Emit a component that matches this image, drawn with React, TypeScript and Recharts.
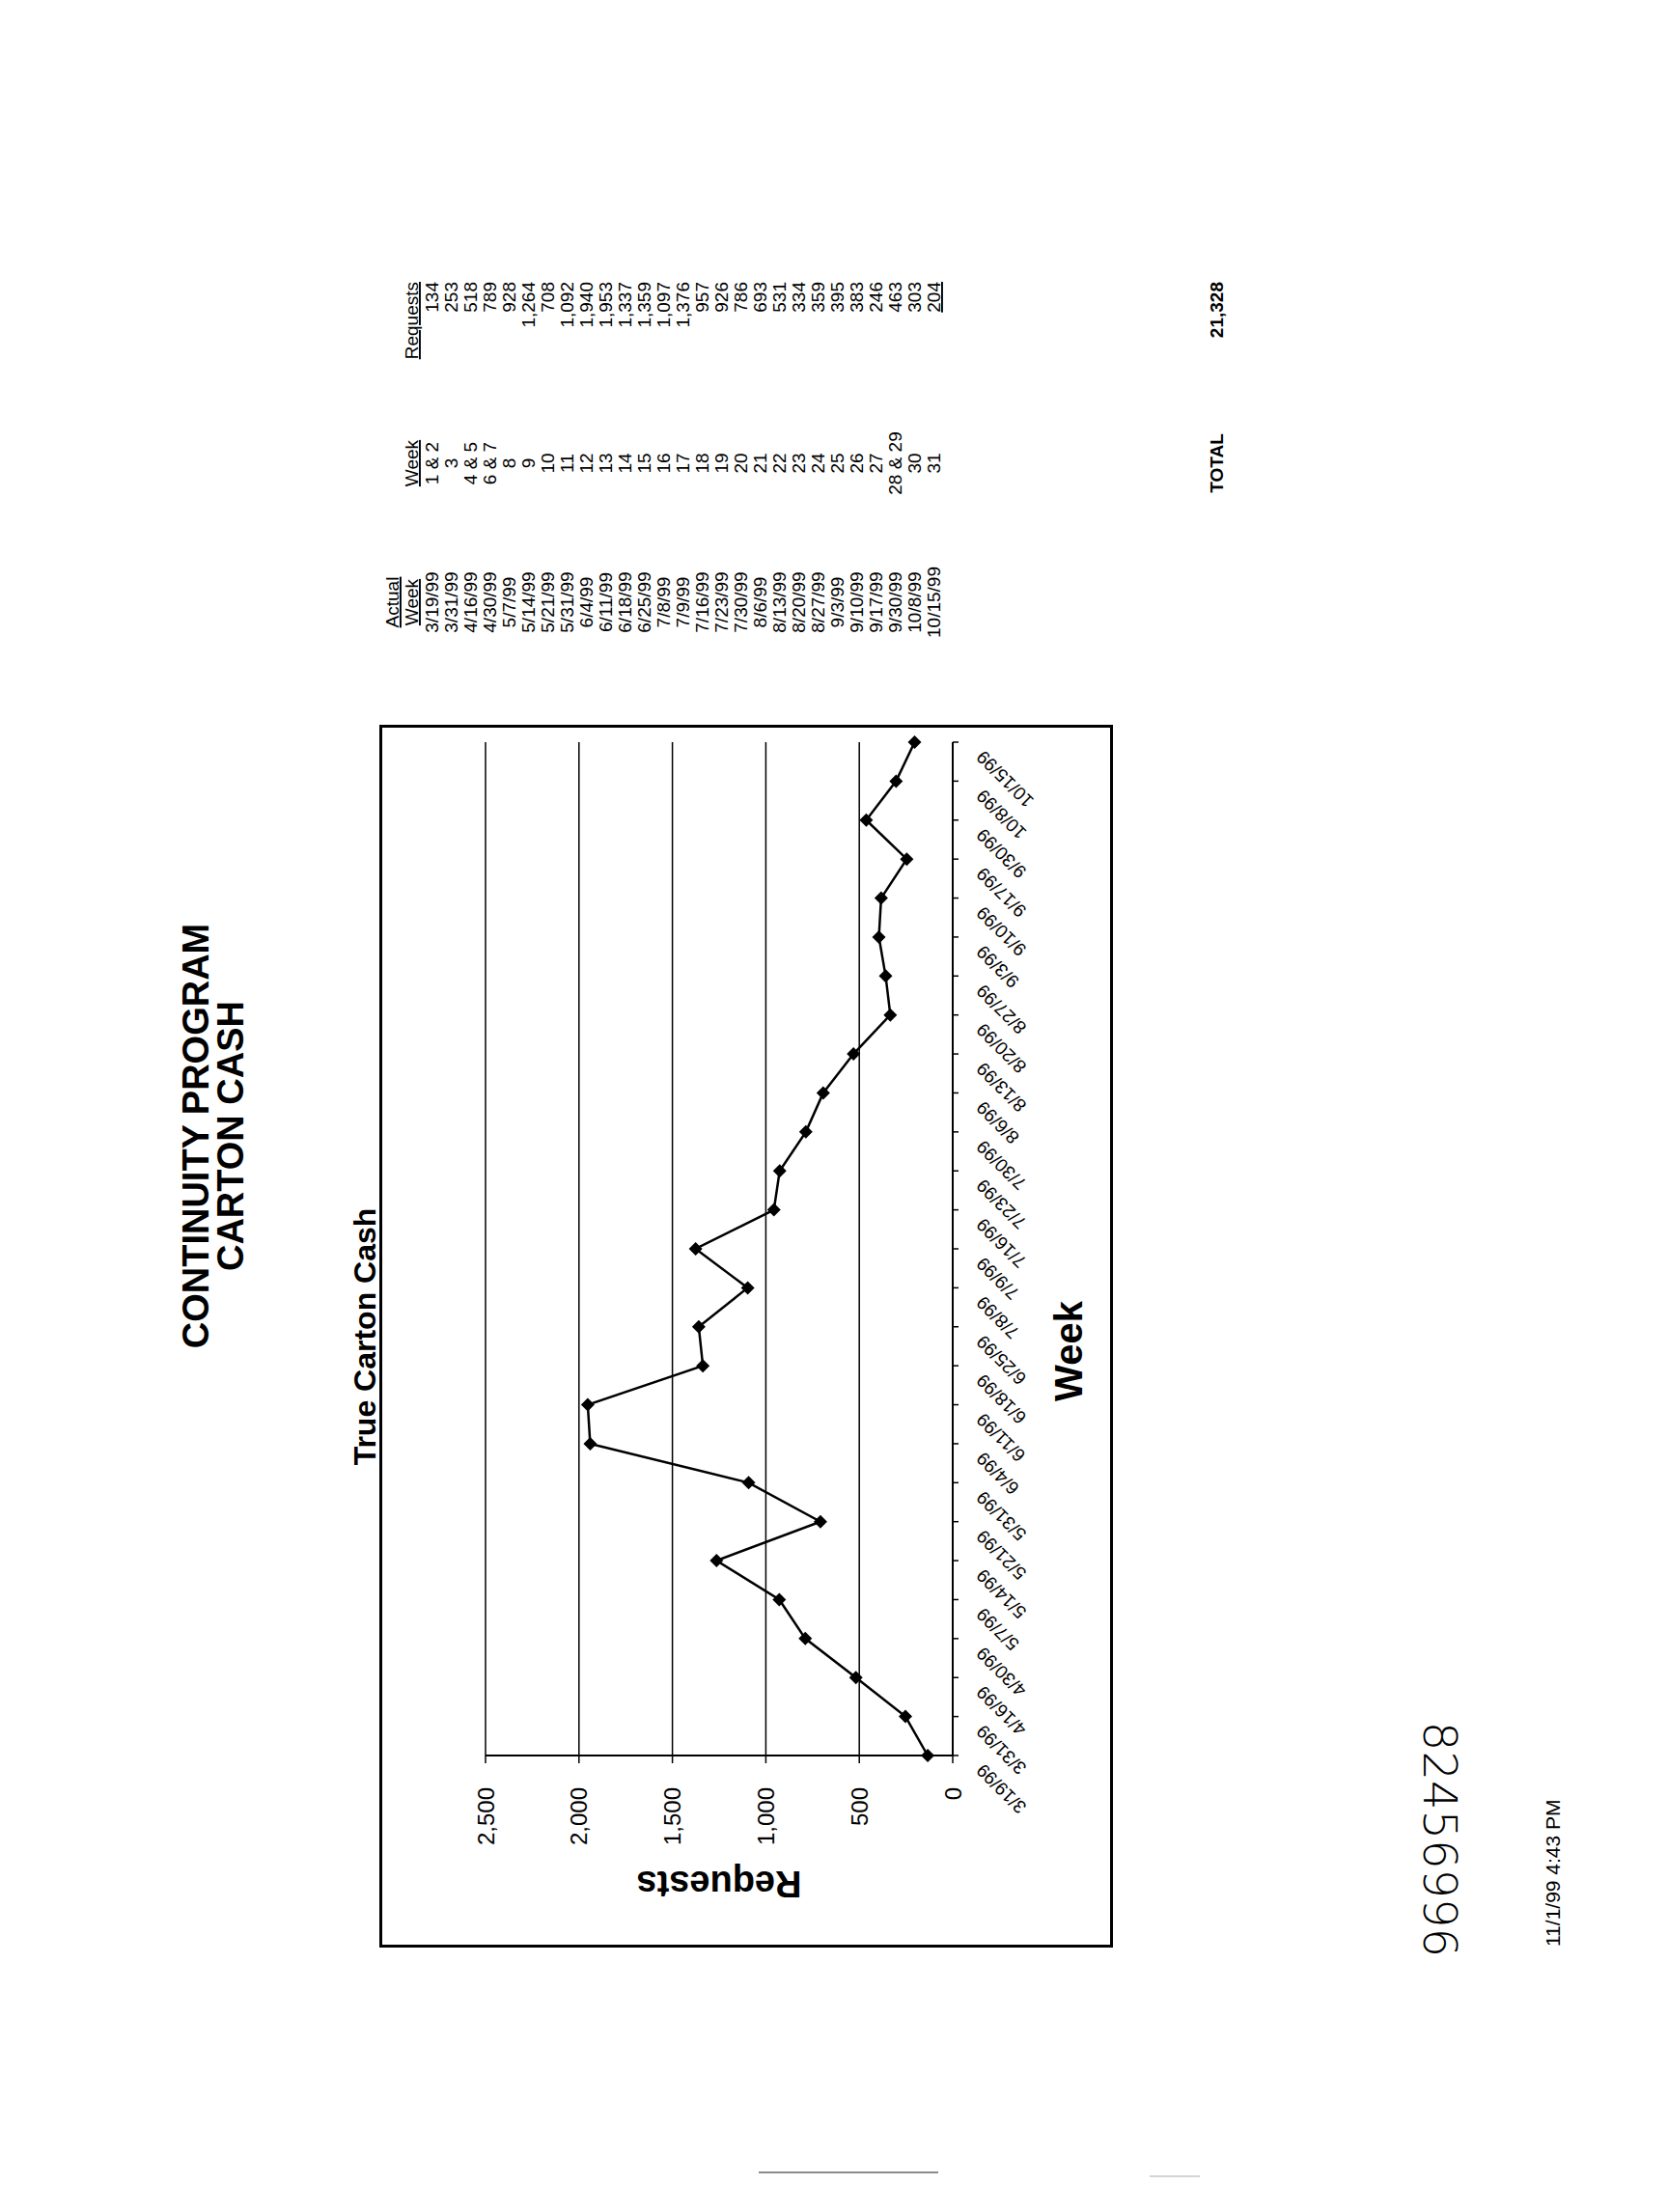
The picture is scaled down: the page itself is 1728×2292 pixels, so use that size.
import React from 'react'
import { LineChart, Line, XAxis, YAxis, CartesianGrid } from 'recharts'

// Weekly true carton cash requests (from the table on the page)
const weekDates = [
  '3/19/99', '3/31/99', '4/16/99', '4/30/99', '5/7/99', '5/14/99', '5/21/99',
  '5/31/99', '6/4/99', '6/11/99', '6/18/99', '6/25/99', '7/8/99', '7/9/99',
  '7/16/99', '7/23/99', '7/30/99', '8/6/99', '8/13/99', '8/20/99', '8/27/99',
  '9/3/99', '9/10/99', '9/17/99', '9/30/99', '10/8/99', '10/15/99'
]
const weekNumbers = [
  '1 & 2', '3', '4 & 5', '6 & 7', '8', '9', '10', '11', '12', '13', '14', '15',
  '16', '17', '18', '19', '20', '21', '22', '23', '24', '25', '26', '27',
  '28 & 29', '30', '31'
]
const requests = [
  134, 253, 518, 789, 928, 1264, 708, 1092, 1940, 1953, 1337, 1359, 1097, 1376,
  957, 926, 786, 693, 531, 334, 359, 395, 383, 246, 463, 303, 204
]
const yTicks = [0, 500, 1000, 1500, 2000, 2500]
const totalRequests = '21,328'

const chartData = weekDates.map((week, i) => ({ week, requests: requests[i] }))

const FONT = '"Liberation Sans", Arial, Helvetica, sans-serif'

const DateTick = (props: any) => {
  const { x, y, payload } = props
  return (
    <g transform={`translate(${x - 12},${y + 20})`}>
      <text
        x={0}
        y={0}
        textAnchor="end"
        dominantBaseline="central"
        transform="rotate(-45)"
        fontSize={19}
        fontFamily={FONT}
        fill="#000"
      >
        {payload.value}
      </text>
    </g>
  )
}

const Diamond = (props: any) => {
  const { cx, cy, index } = props
  if (cx == null || cy == null) return null
  return (
    <path
      key={`dot-${index}`}
      d={`M${cx},${cy - 7}L${cx + 7},${cy}L${cx},${cy + 7}L${cx - 7},${cy}Z`}
      fill="#000"
    />
  )
}

const RequestsTitle = (props: any) => {
  const { viewBox } = props
  const cx = viewBox.x + 66
  const cy = viewBox.y + viewBox.height / 2
  return (
    <text
      x={cx}
      y={cy}
      transform={`rotate(-90, ${cx}, ${cy})`}
      textAnchor="middle"
      dominantBaseline="central"
      fontSize={38}
      fontWeight="bold"
      fontFamily={FONT}
      fill="#000"
    >
      Requests
    </text>
  )
}

const WeekTitle = (props: any) => {
  const { viewBox } = props
  return (
    <text
      x={viewBox.x + 419}
      y={viewBox.y + 120}
      textAnchor="middle"
      dominantBaseline="central"
      fontSize={40}
      fontWeight="bold"
      fontFamily={FONT}
      fill="#000"
    >
      Week
    </text>
  )
}

export default function App() {
  const last = weekDates.length - 1
  return (
    <div
      style={{
        position: 'absolute',
        left: 0,
        top: 0,
        width: 1728,
        height: 2292,
        background: '#fff',
        overflow: 'hidden'
      }}
    >
      {/* the scanned page is a landscape sheet turned a quarter turn */}
      <div
        style={{
          position: 'absolute',
          left: 0,
          top: 0,
          width: 2292,
          height: 1728,
          transformOrigin: '0 0',
          transform: 'translate(0px, 2292px) rotate(-90deg)'
        }}
      >
        <svg
          width={2292}
          height={1728}
          style={{ position: 'absolute', left: 0, top: 0 }}
          fontFamily={FONT}
          fill="#000"
        >
          <text x={1115} y={216} textAnchor="middle" fontSize={38} fontWeight="bold">
            CONTINUITY PROGRAM
          </text>
          <text x={1115} y={252} textAnchor="middle" fontSize={38} fontWeight="bold">
            CARTON CASH
          </text>
          <text x={907} y={389} textAnchor="middle" fontSize={32} fontWeight="bold">
            True Carton Cash
          </text>

          {/* table */}
          <g fontSize={19}>
            <text x={1668} y={413} textAnchor="middle" textDecoration="underline">Actual</text>
            <text x={1668} y={433} textAnchor="middle" textDecoration="underline">Week</text>
            <text x={1812} y={433} textAnchor="middle" textDecoration="underline">Week</text>
            <text x={2000} y={433} textAnchor="end" textDecoration="underline">Requests</text>
            {weekDates.map((d, i) => {
              const y = 454 + 20 * i
              return (
                <g key={d}>
                  <text x={1668} y={y} textAnchor="middle">{d}</text>
                  <text x={1812} y={y} textAnchor="middle">{weekNumbers[i]}</text>
                  <text
                    x={2000}
                    y={y}
                    textAnchor="end"
                    textDecoration={i === last ? 'underline' : undefined}
                  >
                    {requests[i].toLocaleString('en-US')}
                  </text>
                </g>
              )
            })}
            <text x={1812} y={1267} textAnchor="middle" fontWeight="bold">TOTAL</text>
            <text x={2000} y={1267} textAnchor="end" fontWeight="bold">{totalRequests}</text>
          </g>

          <text
            x={386}
            y={1492}
            textAnchor="middle"
            dominantBaseline="central"
            fontSize={48}
            fontWeight={300}
            fontFamily='"DejaVu Sans", sans-serif'
            transform="rotate(180, 386, 1492)"
          >
            82456996
          </text>
          <text x={275} y={1616} fontSize={21}>11/1/99 4:43 PM</text>

          <line x1={41} y1={786} x2={41} y2={972} stroke="#666" strokeWidth={1.5} />
          <line x1={37} y1={1191} x2={37} y2={1243} stroke="#aaa" strokeWidth={1} />
        </svg>

        <div style={{ position: 'absolute', left: 274, top: 393, width: 1267, height: 760 }}>
          <LineChart
            width={1267}
            height={760}
            data={chartData}
            margin={{ top: 110, right: 18, left: 0, bottom: 0 }}
          >
            <CartesianGrid yAxisId="v" vertical={false} stroke="#000" strokeWidth={1.5} />
            <XAxis
              dataKey="week"
              height={166}
              interval={0}
              tick={<DateTick />}
              tickSize={6}
              tickLine={{ stroke: '#000', strokeWidth: 1.5 }}
              axisLine={{ stroke: '#000', strokeWidth: 2 }}
              label={{ content: <WeekTitle /> }}
            />
            <YAxis
              yAxisId="v"
              width={199}
              domain={[0, 2500]}
              ticks={yTicks}
              tickFormatter={(v: number) => v.toLocaleString('en-US')}
              tickSize={8}
              tickMargin={25}
              tick={{ fontSize: 24, fill: '#000', fontFamily: FONT }}
              tickLine={{ stroke: '#000', strokeWidth: 1.5 }}
              axisLine={{ stroke: '#000', strokeWidth: 2 }}
              label={{ content: <RequestsTitle /> }}
            />
            <YAxis
              yAxisId="edge"
              orientation="right"
              width={0}
              domain={[0, 2500]}
              tick={false}
              tickLine={false}
              axisLine={{ stroke: '#666', strokeWidth: 1.5, strokeDasharray: '3 2' }}
            />
            <Line
              yAxisId="v"
              type="linear"
              dataKey="requests"
              stroke="#000"
              strokeWidth={2.5}
              dot={<Diamond />}
              activeDot={false}
              isAnimationActive={false}
            />
          </LineChart>
          <div
            style={{
              position: 'absolute',
              left: 0,
              top: 0,
              right: 0,
              bottom: 0,
              border: '3px solid #000',
              pointerEvents: 'none'
            }}
          />
        </div>
      </div>
    </div>
  )
}
